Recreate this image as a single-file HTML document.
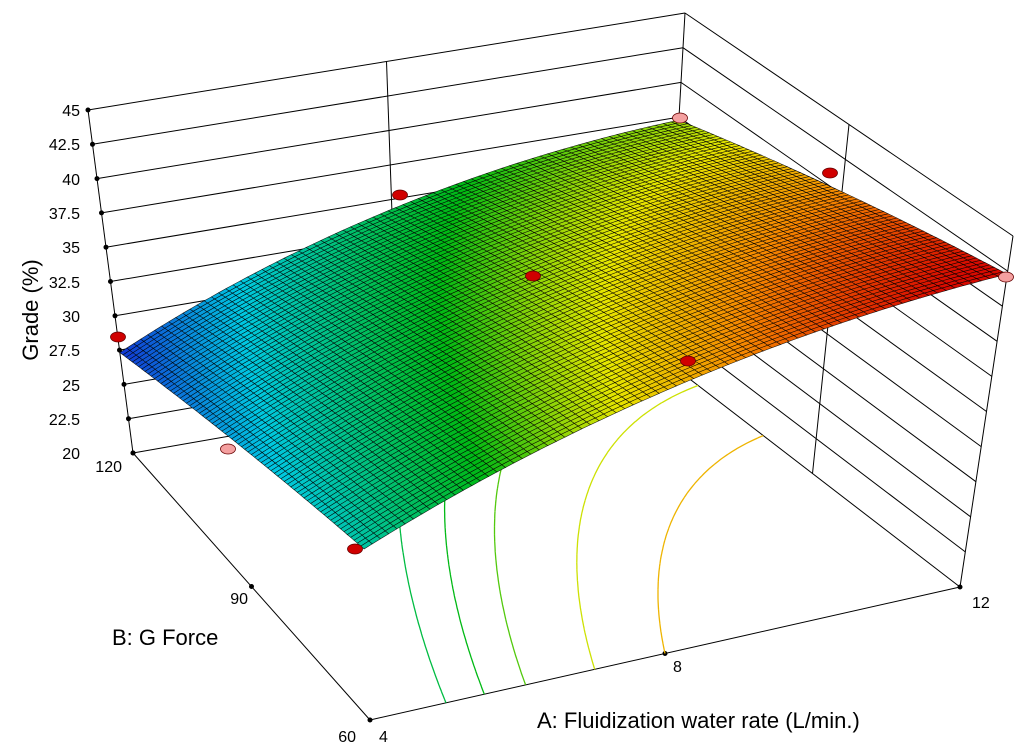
<!DOCTYPE html>
<html><head><meta charset="utf-8"><style>
html,body{margin:0;padding:0;background:#fff;}
svg{display:block;font-family:"Liberation Sans",sans-serif;}
</style></head><body>
<svg id="s" width="1024" height="756" viewBox="0 0 1024 756" xmlns="http://www.w3.org/2000/svg">
<g id="walls" stroke="#000" stroke-width="1" fill="none"></g>
<g id="cont" fill="none" stroke-width="1.3"></g>
<g id="surf"></g>
<g id="pts"></g>
<g font-size="16" fill="#000" text-anchor="end">
<text x="80" y="116">45</text><text x="80" y="150">42.5</text><text x="80" y="185">40</text>
<text x="80" y="219">37.5</text><text x="80" y="253">35</text><text x="80" y="288">32.5</text>
<text x="80" y="322">30</text><text x="80" y="356">27.5</text><text x="80" y="391">25</text>
<text x="80" y="425">22.5</text><text x="80" y="459">20</text><text x="122" y="472">120</text>
<text x="248" y="604">90</text><text x="356" y="742">60</text>
</g>
<g font-size="16" fill="#000">
<text x="379" y="742">4</text><text x="673" y="672">8</text><text x="972" y="608">12</text>
</g>
<text x="112" y="645" font-size="22">B: G Force</text>
<text x="537" y="728" font-size="22">A: Fluidization water rate (L/min.)</text>
<text transform="translate(38,310) rotate(-90)" font-size="22" text-anchor="middle">Grade (%)</text>
</svg>
<script>
var NS="http://www.w3.org/2000/svg";
var F={a00:[370,720],a10:[960,587],a01:[133,453],a11:[665,360]};
var O={a00:[-12,-347],a10:[53,-351],a01:[-45,-343],a11:[20,-347]};
function bl(c,a,b,k){return c.a00[k]*(1-a)*(1-b)+c.a10[k]*a*(1-b)+c.a01[k]*(1-a)*b+c.a11[k]*a*b;}
function P(a,b,z){var t=(z-20)/25;return [bl(F,a,b,0)+t*bl(O,a,b,0),bl(F,a,b,1)+t*bl(O,a,b,1)];}
function Z(a,b){var u=2*a-1,v=2*b-1;return 37.2+4.98*u-2.5*v-2.0*u*u-0.4*v*v;}
var stops=[[27,[20,40,210]],[31,[0,200,225]],[35.5,[0,185,20]],[38.3,[230,230,0]],[40.2,[245,135,0]],[42,[215,10,0]]];
function col(z){if(z<=stops[0][0])return "rgb(20,40,210)";
for(var i=1;i<stops.length;i++){if(z<=stops[i][0]){var s0=stops[i-1],s1=stops[i],f=(z-s0[0])/(s1[0]-s0[0]);
var c=s0[1].map(function(v,k){return Math.round(v+(s1[1][k]-v)*f);});return "rgb("+c.join(",")+")";}}return "rgb(215,10,0)";}
function el(tag,attrs,parent){var e=document.createElementNS(NS,tag);for(var k in attrs)e.setAttribute(k,attrs[k]);parent.appendChild(e);return e;}
function line(p,q,g){el("line",{x1:p[0],y1:p[1],x2:q[0],y2:q[1]},g);}
var W=document.getElementById("walls");
for(var i=0;i<=10;i++){var z=20+2.5*i;
 line(P(0,1,z),P(1,1,z),W); line(P(1,1,z),P(1,0,z),W);
 var p=P(0,1,z);el("circle",{cx:p[0],cy:p[1],r:2,fill:"#000"},W);}
line(P(0,1,20),P(0,1,45),W);line(P(1,1,20),P(1,1,45),W);line(P(1,0,20),P(1,0,45),W);
line(P(0.5,1,20),P(0.5,1,45),W);line(P(1,0.5,20),P(1,0.5,45),W);
line(P(0,1,20),P(0,0,20),W);line(P(0,0,20),P(1,0,20),W);
[[0,1],[0,0.5],[0,0],[0.5,0],[1,0]].forEach(function(q){var p=P(q[0],q[1],20);el("circle",{cx:p[0],cy:p[1],r:2,fill:"#000"},W);});
var C=document.getElementById("cont");var M=80;
[34.5,35.5,36.5,38,39.3].forEach(function(L){var d="";
 for(var i=0;i<M;i++)for(var j=0;j<M;j++){var a0=i/M,a1=(i+1)/M,b0=j/M,b1=(j+1)/M;
  var c=[[a0,b0],[a1,b0],[a1,b1],[a0,b1]];var zs=c.map(function(q){return Z(q[0],q[1]);});var pts=[];
  for(var k=0;k<4;k++){var k2=(k+1)%4;if((zs[k]-L)*(zs[k2]-L)<0){var f=(L-zs[k])/(zs[k2]-zs[k]);
   pts.push(P(c[k][0]+(c[k2][0]-c[k][0])*f,c[k][1]+(c[k2][1]-c[k][1])*f,20));}}
  if(pts.length>=2)d+="M"+pts[0][0].toFixed(1)+","+pts[0][1].toFixed(1)+"L"+pts[1][0].toFixed(1)+","+pts[1][1].toFixed(1);}
 el("path",{d:d,stroke:col(L)},C);});
var S=document.getElementById("surf");var N=75;var frag=document.createDocumentFragment();
for(var j=N-1;j>=0;j--)for(var i=0;i<N;i++){var a0=i/N,a1=(i+1)/N,b0=j/N,b1=(j+1)/N;
 var q=[[a0,b0],[a1,b0],[a1,b1],[a0,b1]].map(function(r){return P(r[0],r[1],Z(r[0],r[1]));});
 var zc=Z((a0+a1)/2,(b0+b1)/2);
 var e=document.createElementNS(NS,"polygon");
 e.setAttribute("points",q.map(function(p){return p[0].toFixed(1)+","+p[1].toFixed(1);}).join(" "));
 e.setAttribute("fill",col(zc));e.setAttribute("stroke","#000");e.setAttribute("stroke-width","0.55");e.setAttribute("stroke-opacity","0.9");
 frag.appendChild(e);}
S.appendChild(frag);
var G=document.getElementById("pts");
[[118,337,"#d00000"],[400,195,"#d00000"],[533,276,"#d00000"],[680,118,"#f4a0a0"],[830,173,"#d00000"],[1006,277,"#f4a0a0"],[688,361,"#d00000"],[355,549,"#d00000"],[228,449,"#f4a0a0"]].forEach(function(d){
 el("ellipse",{cx:d[0],cy:d[1],rx:7.5,ry:5,fill:d[2],stroke:"#600",'stroke-width':0.8},G);});
</script>
</body></html>
